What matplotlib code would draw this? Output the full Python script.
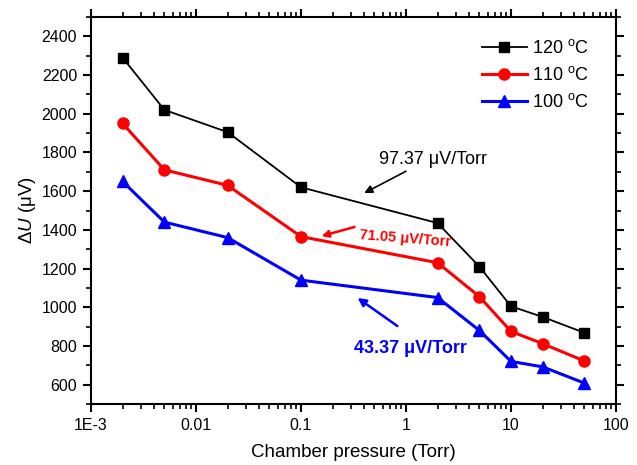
import matplotlib
matplotlib.use("Agg")
import matplotlib.pyplot as plt
from matplotlib.ticker import FixedLocator, FixedFormatter, MultipleLocator, LogLocator, NullFormatter

plt.rcParams['font.family'] = ['Liberation Sans', 'DejaVu Sans']
plt.rcParams['mathtext.fontset'] = 'custom'
plt.rcParams['mathtext.rm'] = 'Liberation Sans'
plt.rcParams['mathtext.it'] = 'Liberation Sans:italic'

pressure = [0.002, 0.005, 0.02, 0.1, 2, 5, 10, 20, 50]
u_120 = [2290, 2020, 1905, 1620, 1435, 1210, 1005, 950, 868]
u_110 = [1950, 1710, 1630, 1365, 1230, 1055, 875, 812, 722]
u_100 = [1650, 1440, 1360, 1140, 1050, 880, 720, 692, 608]
labels = ["120 $^{\\mathrm{o}}$C", "110 $^{\\mathrm{o}}$C", "100 $^{\\mathrm{o}}$C"]
xticks = [1e-3, 1e-2, 1e-1, 1, 10, 100]
xticklabels = ["1E-3", "0.01", "0.1", "1", "10", "100"]

fig = plt.figure(figsize=(6.37, 4.65), dpi=100)
ax = fig.add_axes([91/637, 1 - 404/465, (616 - 91)/637, (404 - 17)/465])

ax.plot(pressure, u_120, color='black', lw=1.3, marker='s', ms=7, label=labels[0])
ax.plot(pressure, u_110, color='red', lw=2.2, marker='o', ms=8, label=labels[1])
ax.plot(pressure, u_100, color='blue', lw=2.2, marker='^', ms=8.5, label=labels[2])

ax.set_xscale('log')
ax.set_xlim(1e-3, 100)
ax.set_ylim(500, 2500)
ax.xaxis.set_major_locator(FixedLocator(xticks))
ax.xaxis.set_major_formatter(FixedFormatter(xticklabels))
ax.xaxis.set_minor_locator(LogLocator(base=10, subs=range(2, 10), numticks=20))
ax.xaxis.set_minor_formatter(NullFormatter())
ax.yaxis.set_major_locator(FixedLocator(range(600, 2401, 200)))
ax.yaxis.set_minor_locator(MultipleLocator(100))

for sp in ax.spines.values():
    sp.set_linewidth(1.5)
ax.tick_params(which='major', direction='out', length=6, width=1.5, labelsize=11.5,
               top=True, right=True, labeltop=False, labelright=False, pad=4)
ax.tick_params(which='minor', direction='out', length=3.5, width=1.2, top=True, right=True)

ax.set_xlabel("Chamber pressure (Torr)", fontsize=13.5, labelpad=8)
ax.set_ylabel("$\\mathit{\\Delta U}$ (μV)", fontsize=13.5)
ax.yaxis.set_label_coords(-0.101, 0.5)

leg = ax.legend(loc='upper right', frameon=False, fontsize=13, handlelength=2.5,
                handletextpad=0.3, labelspacing=0.5, bbox_to_anchor=(0.98, 0.985))

ax.annotate("97.37 μV/Torr", xy=(0.40, 1590), xytext=(1.80, 1761),
            fontsize=13, color='black', ha='center', va='center',
            arrowprops=dict(arrowstyle='-|>', color='black', lw=1.2, mutation_scale=12,
                            shrinkA=0, shrinkB=0, relpos=(0.3, 0.0)))
ax.annotate("", xy=(0.157, 1368), xytext=(0.324, 1415),
            arrowprops=dict(arrowstyle='-|>', color='red', lw=1.8, mutation_scale=10, shrinkA=0, shrinkB=0))
ax.text(0.361, 1372, "71.05 μV/Torr", fontsize=10.5, color='red', fontweight='bold',
        rotation=-4.5, ha='left', va='center', rotation_mode='anchor')
ax.annotate("", xy=(0.346, 1048), xytext=(0.827, 903),
            arrowprops=dict(arrowstyle='-|>', color='blue', lw=1.8, mutation_scale=12, shrinkA=0, shrinkB=0))
ax.text(1.094, 789, "43.37 μV/Torr", fontsize=13, color='blue', fontweight='bold',
        ha='center', va='center')

fig.savefig("out.png", dpi=100)
